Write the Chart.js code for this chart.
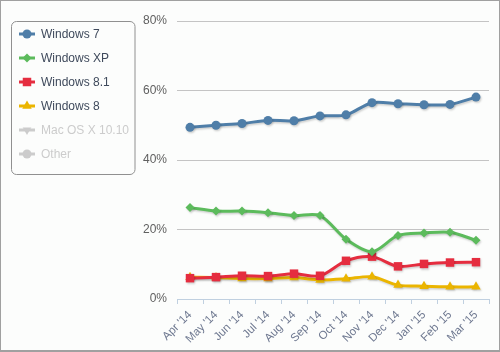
<!DOCTYPE html>
<html>
<head>
    <script src="https://cdn.jsdelivr.net/npm/chart.js@4.4.1/dist/chart.umd.min.js"></script>
    <style>
        body { margin: 0; background: #fff; }
        #wrap { width: 500px; height: 352px; box-sizing: border-box; border: 1px solid #a0a0a0; border-bottom-width: 2px; background: #fcfdfc; }
    </style>
</head>
<body>
    <div id="wrap">
        <canvas id="myChart" width="498" height="349"></canvas>
    </div>

    <script type="text/javascript">
        // months on the x axis
        const months = ["Apr '14", "May '14", "Jun '14", "Jul '14", "Aug '14", "Sep '14",
                        "Oct '14", "Nov '14", "Dec '14", "Jan '15", "Feb '15", "Mar '15"];

        // market share in percent
        const win7  = [49.4, 50.0, 50.5, 51.4, 51.3, 52.7, 53.0, 56.5, 56.2, 55.9, 56.0, 58.1];
        const winXP = [26.3, 25.3, 25.3, 24.8, 24.0, 24.0, 17.2, 13.6, 18.3, 19.0, 19.2, 16.9];
        const win81 = [6.0, 6.3, 6.7, 6.6, 7.3, 6.7, 11.0, 12.2, 9.4, 10.1, 10.5, 10.6];
        const win8  = [6.3, 6.2, 5.9, 5.9, 6.2, 5.5, 5.8, 6.4, 4.0, 3.7, 3.5, 3.5];
        // these two are switched off in the legend, no values shown
        const macOS = [];
        const other = [];

        const yTicks = [0, 20, 40, 60, 80];

        const series = [
            { label: 'Windows 7', data: win7, color: '#4f7ea8', style: 'circle', r: 4.5 },
            { label: 'Windows XP', data: winXP, color: '#5cbb5c', style: 'rectRot', r: 4.5 },
            { label: 'Windows 8.1', data: win81, color: '#e52d3f', style: 'rect', r: 6 },
            { label: 'Windows 8', data: win8, color: '#ebb500', style: 'triangle', r: 5.5 },
            { label: 'Mac OS X 10.10', data: macOS, color: '#cccccc', style: 'triangle', r: 5, rot: 180, hidden: true },
            { label: 'Other', data: other, color: '#cccccc', style: 'circle', r: 4.5, hidden: true }
        ];

        const datasets = series.map(s => ({
            label: s.label,
            data: s.data,
            borderColor: s.color,
            backgroundColor: s.color,
            borderWidth: 3,
            pointStyle: s.style,
            pointRadius: s.r,
            pointRotation: s.rot || 0,
            pointBorderWidth: 0,
            tension: 0.3,
            hidden: !!s.hidden
        }));

        // light shadow under the lines
        const shadowPlugin = {
            id: 'shadow',
            beforeDatasetsDraw(chart) {
                const ctx = chart.ctx;
                ctx.save();
                ctx.shadowColor = 'rgba(0,0,0,0.18)';
                ctx.shadowOffsetX = 1;
                ctx.shadowOffsetY = 1.5;
                ctx.shadowBlur = 2;
            },
            afterDatasetsDraw(chart) {
                chart.ctx.restore();
            }
        };

        // boxed legend on the left
        const legendPlugin = {
            id: 'boxLegend',
            afterDraw(chart) {
                const ctx = chart.ctx;
                ctx.save();
                ctx.strokeStyle = '#909090';
                ctx.lineWidth = 1;
                ctx.beginPath();
                ctx.roundRect(10.5, 20.5, 123.5, 153, 5);
                ctx.stroke();
                ctx.font = '12px "Liberation Sans", Arial, sans-serif';
                ctx.textBaseline = 'middle';
                series.forEach((s, i) => {
                    const y = 33 + i * 24;
                    ctx.strokeStyle = s.color;
                    ctx.lineWidth = 3;
                    ctx.beginPath();
                    ctx.moveTo(18, y);
                    ctx.lineTo(34, y);
                    ctx.stroke();
                    ctx.fillStyle = s.color;
                    Chart.helpers.drawPoint(ctx, {
                        pointStyle: s.style, radius: s.r, rotation: s.rot || 0, borderWidth: 0
                    }, 26, y);
                    ctx.fillStyle = s.hidden ? '#cccccc' : '#3f4a5c';
                    ctx.fillText(s.label, 40, y + 1);
                });
                ctx.restore();
            }
        };

        const config = {
            type: 'line',
            data: { labels: months, datasets: datasets },
            options: {
                responsive: false,
                animation: false,
                layout: { padding: { left: 139, right: 10, top: 20, bottom: 0 } },
                plugins: {
                    legend: { display: false },
                    tooltip: { enabled: false }
                },
                scales: {
                    x: {
                        offset: true,
                        grid: {
                            offset: true,
                            drawOnChartArea: false,
                            drawTicks: true,
                            tickLength: 5,
                            color: '#c0d0e0'
                        },
                        border: { color: '#c0d0e0' },
                        ticks: {
                            maxRotation: 45,
                            minRotation: 45,
                            color: '#6e7890',
                            font: { family: '"Liberation Sans", Arial, sans-serif', size: 11.5 },
                            padding: 4
                        }
                    },
                    y: {
                        min: 0,
                        max: 80,
                        afterBuildTicks(axis) { axis.ticks = yTicks.map(v => ({ value: v })); },
                        afterFit(axis) { axis.width = 37; },
                        grid: { color: '#c4c4c4', drawTicks: false },
                        border: { display: false },
                        ticks: {
                            color: '#606060',
                            padding: 10,
                            font: { family: '"Liberation Sans", Arial, sans-serif', size: 12 },
                            callback: v => v + '%'
                        }
                    }
                }
            },
            plugins: [shadowPlugin, legendPlugin]
        };

        const chart = new Chart(document.getElementById('myChart'), config);
    </script>
</body>
</html>
